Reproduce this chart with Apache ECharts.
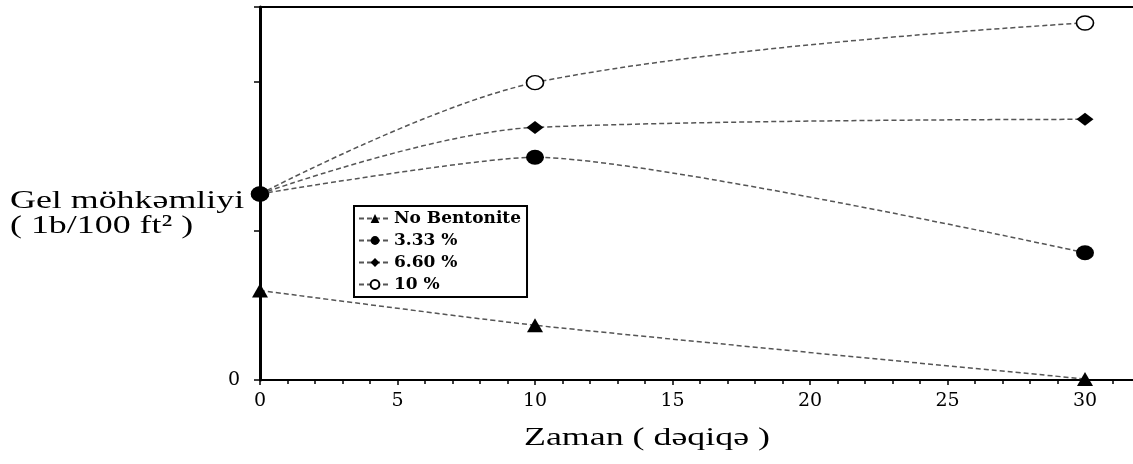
<!DOCTYPE html>
<html>
<head>
<meta charset="utf-8">
<script src="https://cdn.jsdelivr.net/npm/echarts@6/dist/echarts.min.js"></script>
<style>html,body{margin:0;padding:0;background:#fff;}#c{width:1133px;height:464px;}</style>
</head>
<body>
<div id="c"></div>
<script>
const times = [0, 10, 30];
const seriesNames = ['No Bentonite', '3.33 %', '6.60 %', '10 %'];
const noBentonite = [6.0, 3.67, 0.07];
const bent333 = [12.47, 14.93, 8.53];
const bent660 = [12.47, 16.93, 17.47];
const bent10 = [12.47, 19.93, 23.93];
const xTicks = [0, 5, 10, 15, 20, 25, 30];
const yTickLabels = ['0'];

const chart = echarts.init(document.getElementById('c'), null, {renderer: 'canvas'});
const lineStyle = {color: '#555', width: 1.5, type: [5, 3]};
function mk(name, vals, symbol, size, fill, z, smooth) {
  return {
    name: name, type: 'line', smooth: smooth,
    data: times.map((t, i) => [t, vals[i]]),
    symbol: symbol, symbolSize: size, showSymbol: true,
    lineStyle: lineStyle,
    itemStyle: {color: fill, borderColor: '#000', borderWidth: fill === '#fff' ? 1.5 : 0},
    z: z
  };
}
chart.setOption({
  animation: false,
  backgroundColor: '#fff',
  grid: {left: 260, top: 7, width: 962.5, height: 373, outerBoundsMode: 'none', containLabel: false,
    show: true, borderColor: '#000', borderWidth: 2, backgroundColor: 'transparent'},
  xAxis: {
    type: 'value', min: 0, max: 35, interval: 5,
    axisLine: {show: true, onZero: false, lineStyle: {color: '#000', width: 2}},
    axisTick: {show: true, inside: false, length: 5, lineStyle: {color: '#000', width: 1.5}},
    minorTick: {show: true, splitNumber: 5, length: 4, lineStyle: {color: '#000', width: 1.5}},
    splitLine: {show: false},
    axisLabel: {margin: 12, color: '#000', fontFamily: 'DejaVu Serif', fontSize: 19,
      formatter: v => xTicks.indexOf(v) >= 0 ? String(v) : ''}
  },
  yAxis: {
    type: 'value', min: 0, max: 25, interval: 10,
    axisLine: {show: true, lineStyle: {color: '#000', width: 3}},
    axisTick: {show: true, inside: false, length: 6, lineStyle: {color: '#000', width: 1.5}},
    splitLine: {show: false},
    axisLabel: {margin: 20, color: '#000', fontFamily: 'DejaVu Serif', fontSize: 19,
      formatter: v => yTickLabels.indexOf(String(v)) >= 0 ? String(v) : ''}
  },
  legend: {
    orient: 'vertical', left: 354, top: 206,
    data: seriesNames,
    borderColor: '#000', borderWidth: 2, padding: [4, 6, 4, 4],
    itemWidth: 32, itemHeight: 11, itemGap: 5,
    textStyle: {fontFamily: 'DejaVu Serif', fontWeight: 'bold', fontSize: 17, color: '#000', padding: [0, 0, 0, -2]}
  },
  graphic: [
    {type: 'text', x: 10, y: 201, scaleX: 1.38,
      style: {text: 'Gel möhkəmliyi', fontFamily: 'Liberation Serif', fontSize: 26, fill: '#000', textVerticalAlign: 'middle', textAlign: 'left'}},
    {type: 'text', x: 10, y: 226, scaleX: 1.38,
      style: {text: '( 1b/100 ft² )', fontFamily: 'Liberation Serif', fontSize: 26, fill: '#000', textVerticalAlign: 'middle', textAlign: 'left'}},
    {type: 'text', x: 647, y: 438, scaleX: 1.38,
      style: {text: 'Zaman ( dəqiqə )', fontFamily: 'Liberation Serif', fontSize: 26, fill: '#000', textVerticalAlign: 'middle', textAlign: 'center'}}
  ],
  series: [
    mk(seriesNames[0], noBentonite, 'triangle', [16, 14], '#000', 3, 0.2),
    mk(seriesNames[1], bent333, 'circle', [18, 15], '#000', 6, 0.2),
    mk(seriesNames[2], bent660, 'diamond', [17, 13], '#000', 5, 0.35),
    mk(seriesNames[3], bent10, 'circle', [17, 14], '#fff', 4, 0.35)
  ]
});
</script>
</body>
</html>
